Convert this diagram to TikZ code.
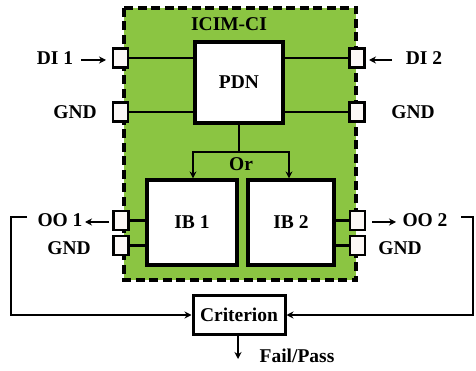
\documentclass[tikz,border=0pt]{standalone}
\usepackage{fontspec}
\setmainfont{Liberation Serif}
\usetikzlibrary{arrows.meta}
\definecolor{icgreen}{RGB}{139,197,66}
\definecolor{portfill}{RGB}{252,248,246}
\tikzset{
  lbl/.style={font=\fontsize{19.5}{19.5}\selectfont\bfseries, inner sep=0pt},
  blk/.style={draw=black, fill=white, line width=3.2pt, inner sep=0pt, font=\fontsize{19.5}{19.5}\selectfont\bfseries},
  port/.style={draw=black, fill=portfill, line width=2.2pt, minimum width=15pt, minimum height=19pt, inner sep=0pt},
  wire/.style={line width=2.3pt},
  arr/.style={line width=2.3pt, -{Stealth[length=7pt,width=7pt]}},
}
\begin{document}
\begin{tikzpicture}[x=1pt,y=-1pt]
\useasboundingbox (0,0) rectangle (476,371);
% green ICIM-CI area
\draw[fill=icgreen, line width=3.2pt, dash pattern=on 9pt off 4.5pt] (124,8) rectangle (356,280);
\node[lbl] (title) at (229,24) {ICIM-CI};
% blocks
\node[blk, minimum width=88pt, minimum height=81pt] (pdn) at (239,82.5) {PDN};
\node[blk, minimum width=90pt, minimum height=85pt] (ib1) at (192,222.5) {IB 1};
\node[blk, minimum width=86pt, minimum height=85pt] (ib2) at (291,222.5) {IB 2};
\node[blk, line width=3pt, minimum width=92pt, minimum height=39pt] (crit) at (239,315) {Criterion};
% ports
\node[port] (pl1) at (120.5,58) {};
\node[port] (pl2) at (120.5,112) {};
\node[port] (pr1) at (357,58) {};
\node[port] (pr2) at (357,112) {};
\node[port] (pl3) at (121,220.5) {};
\node[port] (pl4) at (121,245.5) {};
\node[port] (pr3) at (357.5,220.5) {};
\node[port] (pr4) at (357.5,245.5) {};
% port wires
\draw[wire] (pl1.east) -- (pl1.east -| pdn.west);
\draw[wire] (pl2.east) -- (pl2.east -| pdn.west);
\draw[wire] (pr1.west) -- (pr1.west -| pdn.east);
\draw[wire] (pr2.west) -- (pr2.west -| pdn.east);
\draw[wire] (pl3.east) -- (pl3.east -| ib1.west);
\draw[wire] (pl4.east) -- (pl4.east -| ib1.west);
\draw[wire] (pr3.west) -- (pr3.west -| ib2.east);
\draw[wire] (pr4.west) -- (pr4.west -| ib2.east);
% PDN split
\coordinate (split) at (239,152);
\coordinate (sl) at (193,152);
\coordinate (sr) at (289,152);
\draw[wire] (pdn.south) -- (split);
\draw[arr] (split) -- (sl) -- (sl |- ib1.north);
\draw[arr] (split) -- (sr) -- (sr |- ib2.north);
\node[lbl] (or) at (241,164) {Or};
% external labels
\node[lbl] (di1) at (55,58) {DI 1};
\coordinate (di1a) at (81,60);
\coordinate (di1b) at (106,60);
\draw[arr] (di1a) -- (di1b);
\node[lbl] (gndl1) at (75,112) {GND};
\node[lbl] (di2) at (424,58) {DI 2};
\coordinate (di2a) at (392,60);
\coordinate (di2b) at (369,60);
\draw[arr] (di2a) -- (di2b);
\node[lbl] (gndr1) at (413,112) {GND};
\node[lbl] (oo1) at (60,220) {OO 1};
\coordinate (oo1a) at (109,222);
\coordinate (oo1b) at (85,222);
\draw[arr] (oo1a) -- (oo1b);
\node[lbl] (gndl2) at (69,248) {GND};
\node[lbl] (oo2) at (425,220) {OO 2};
\coordinate (oo2a) at (372,222);
\coordinate (oo2b) at (396,222);
\draw[arr] (oo2a) -- (oo2b);
\node[lbl] (gndr2) at (400,248) {GND};
% feedback
\coordinate (fl0) at (27,217);
\coordinate (fl1) at (11,217);
\draw[arr] (fl0) -- (fl1) |- (crit.west);
\coordinate (fr0) at (461,217);
\coordinate (fr1) at (473,217);
\draw[arr] (fr0) -- (fr1) |- (crit.east);
% output
\coordinate (out) at (238,359);
\draw[arr] (crit.south -| out) -- (out);
\node[lbl] (fp) at (297,356) {Fail/Pass};
\end{tikzpicture}
\end{document}
